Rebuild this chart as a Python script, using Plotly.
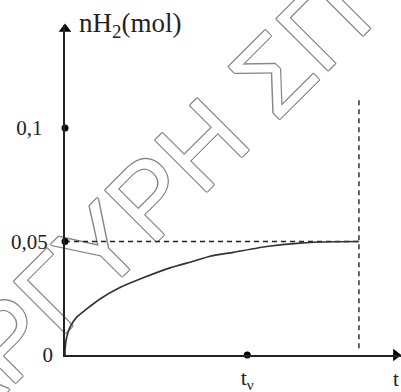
import plotly.graph_objects as go

# values (t in arbitrary units, t = 10 where the curve levels off)
curve_t = [0, 0, 0.06, 0.17, 0.40, 0.74, 1.19, 1.87, 2.66, 3.57, 4.36, 4.93, 5.72, 6.86, 7.99, 9.12, 10]
curve_n = [0, 0.0022, 0.0080, 0.0123, 0.0167, 0.0203, 0.0247, 0.0297, 0.0340, 0.0384,
           0.0413, 0.0435, 0.0452, 0.0478, 0.0493, 0.0499, 0.0500]
n_final = 0.05
t_final = 10
t_nu = 6.2
y_ticks = [0, 0.05, 0.1]
y_ticktext = ["0", "0,05\u00a0", "0,1\u00a0\u00a0"]
watermark = "ΑΡΓΥΡΗ ΣΠ"

X_MAX = 11.43
Y_MAX = 0.1454
INK = "#222222"
SERIF = "Liberation Serif, Times New Roman, serif"

x_arrow = X_MAX * 0.985
y_arrow = Y_MAX * 0.988
v_top = 0.113

fig = go.Figure()

# ── dashed guides ───────────────────────────────────────────────
fig.add_trace(go.Scatter(
    x=[0, t_final], y=[n_final, n_final], mode="lines",
    line={"color": INK, "width": 1.4, "dash": "5px,4px"}, hoverinfo="skip",
))
fig.add_trace(go.Scatter(
    x=[t_final, t_final], y=[0.003, v_top], mode="lines",
    line={"color": INK, "width": 1.4, "dash": "5px,4px"}, hoverinfo="skip",
))

# ── curve ───────────────────────────────────────────────────────
fig.add_trace(go.Scatter(
    x=curve_t, y=curve_n, mode="lines",
    line={"color": "#333333", "width": 1.7, "shape": "spline", "smoothing": 0.5},
    hoverinfo="skip",
))

# ── dots on the axes ────────────────────────────────────────────
fig.add_trace(go.Scatter(
    x=[0, 0, t_nu], y=[0.1, n_final, 0], mode="markers",
    marker={"color": "black", "size": 7}, cliponaxis=False, hoverinfo="skip",
))

# ── arrow heads ─────────────────────────────────────────────────
fig.add_trace(go.Scatter(
    x=[0], y=[y_arrow], mode="markers",
    marker={"symbol": "triangle-up", "color": "black", "size": 11},
    cliponaxis=False, hoverinfo="skip",
))
fig.add_trace(go.Scatter(
    x=[x_arrow], y=[0], mode="markers",
    marker={"symbol": "triangle-right", "color": "black", "size": 11},
    cliponaxis=False, hoverinfo="skip",
))

# ── watermark (outlined letters, below the traces) ──────────────
outline = ", ".join(
    f"{dx}px {dy}px 0 #888888"
    for dx, dy in [(1, 0), (-1, 0), (0, 1), (0, -1), (1, 1), (-1, -1), (1, -1), (-1, 1)]
)
fig.add_shape(
    type="rect", xref="paper", yref="paper",
    x0=0.197, x1=0.217, y0=0.467, y1=0.487,
    line={"width": 0}, fillcolor="rgba(0,0,0,0)", layer="below",
    label={
        "text": watermark,
        "textangle": -45,
        "textposition": "middle center",
        "font": {"family": "Liberation Sans, Arial, sans-serif", "size": 106,
                 "color": "white", "shadow": outline},
    },
)

# ── axis titles ─────────────────────────────────────────────────
fig.add_annotation(
    text="nH<sub>2</sub>(mol)", xref="paper", yref="paper",
    x=0.036, y=1.0, xanchor="left", yanchor="middle", showarrow=False,
    font={"family": SERIF, "size": 27, "color": INK},
)
fig.add_annotation(
    text="t", xref="x", yref="paper",
    x=x_arrow, y=-0.072, xanchor="center", yanchor="middle", showarrow=False,
    font={"family": SERIF, "size": 21, "color": INK},
)

fig.update_layout(
    width=401, height=392, autosize=False,
    margin={"l": 65, "r": 0, "t": 25, "b": 37},
    paper_bgcolor="white", plot_bgcolor="white",
    showlegend=False,
    xaxis={
        "range": [0, X_MAX], "showgrid": False, "zeroline": False,
        "showline": True, "linecolor": INK, "linewidth": 1.6,
        "ticks": "", "tickvals": [t_nu], "ticktext": ["t<sub>ν</sub>"],
        "tickfont": {"family": SERIF, "size": 22, "color": INK},
        "ticklabelstandoff": 2, "automargin": False, "fixedrange": True,
    },
    yaxis={
        "range": [0, Y_MAX], "showgrid": False, "zeroline": False,
        "showline": True, "linecolor": INK, "linewidth": 1.6,
        "ticks": "", "tickvals": y_ticks, "ticktext": y_ticktext,
        "tickfont": {"family": SERIF, "size": 21, "color": INK},
        "ticklabelstandoff": 6, "automargin": False, "fixedrange": True,
    },
)

# the page template keeps the browser's default 8px body margin; drop it
fig.write_html(
    "out.html",
    config={"displayModeBar": False},
    post_script="document.body.style.margin = '0';",
)
